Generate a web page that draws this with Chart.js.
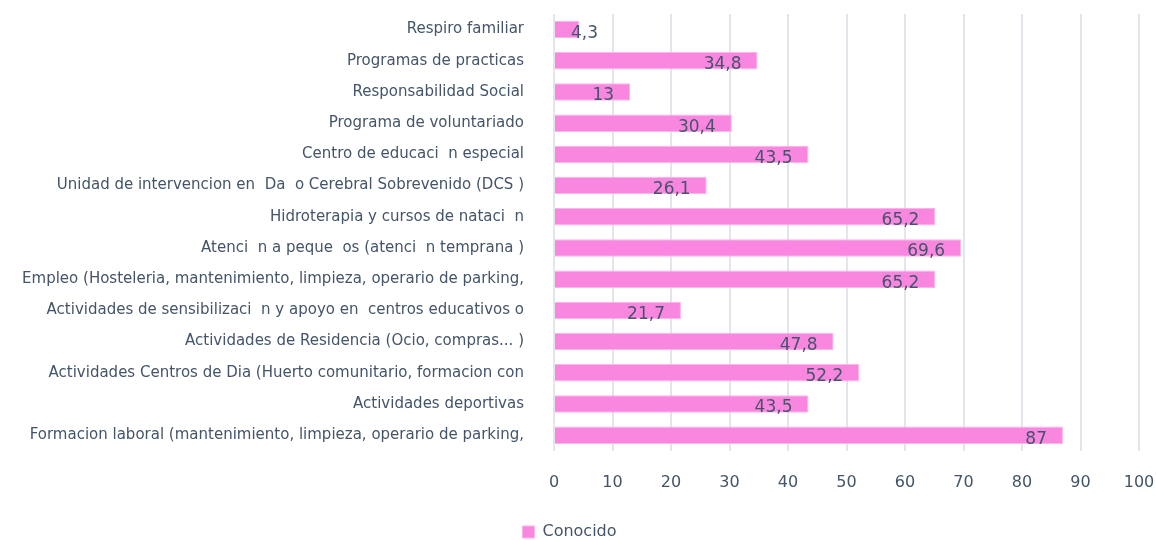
<!DOCTYPE html>
<html>
<head>
<meta charset="utf-8">
<script src="https://cdn.jsdelivr.net/npm/chart.js@4"></script>
<style>
  html, body { margin: 0; padding: 0; background: #fff; }
  #wrap { width: 1156px; height: 540px; position: relative; }
</style>
</head>
<body>
<div id="wrap"><canvas id="chart"></canvas></div>
<script>
const categories = [
  'Respiro familiar',
  'Programas de practicas',
  'Responsabilidad Social',
  'Programa de voluntariado',
  'Centro de educaci  n especial',
  'Unidad de intervencion en  Da  o Cerebral Sobrevenido (DCS )',
  'Hidroterapia y cursos de nataci  n',
  'Atenci  n a peque  os (atenci  n temprana )',
  'Empleo (Hosteleria, mantenimiento, limpieza, operario de parking,',
  'Actividades de sensibilizaci  n y apoyo en  centros educativos o',
  'Actividades de Residencia (Ocio, compras... )',
  'Actividades Centros de Dia (Huerto comunitario, formacion con',
  'Actividades deportivas',
  'Formacion laboral (mantenimiento, limpieza, operario de parking,'
];
const conocido = [4.3, 34.8, 13, 30.4, 43.5, 26.1, 65.2, 69.6, 65.2, 21.7, 47.8, 52.2, 43.5, 87];
const seriesName = 'Conocido';

const TEXT = '#44546a';
const FONT = 'DejaVu Sans';

// value labels drawn near the end of each bar
const valueLabels = {
  id: 'valueLabels',
  afterDatasetsDraw(chart) {
    const ctx = chart.ctx;
    const meta = chart.getDatasetMeta(0);
    ctx.save();
    ctx.font = '17px ' + FONT;
    ctx.fillStyle = TEXT;
    ctx.textAlign = 'right';
    ctx.textBaseline = 'middle';
    meta.data.forEach((bar, i) => {
      const txt = String(conocido[i]).replace('.', ',');
      const w = ctx.measureText(txt).width;
      const x = Math.max(bar.x - 16, bar.base + w + 16);
      ctx.fillText(txt, x, bar.y + 4);
    });
    ctx.restore();
  }
};

new Chart(document.getElementById('chart'), {
  type: 'bar',
  data: {
    labels: categories,
    datasets: [{
      label: seriesName,
      data: conocido,
      backgroundColor: '#f987e0',
      borderColor: '#fcb3ea',
      borderWidth: 1,
      categoryPercentage: 1,
      barPercentage: 0.56
    }]
  },
  options: {
    indexAxis: 'y',
    responsive: true,
    maintainAspectRatio: false,
    animation: false,
    layout: { padding: { top: 14, right: 17, bottom: -10, left: 0 } },
    scales: {
      x: {
        min: 0,
        max: 100,
        ticks: { stepSize: 10, color: TEXT, padding: 22, font: { family: FONT, size: 16 } },
        grid: { color: '#e1e5ec', lineWidth: 2, drawTicks: false },
        border: { display: false },
        afterFit(scale) { scale.paddingRight = 0; scale.height += 10; }
      },
      y: {
        ticks: { color: TEXT, padding: 22, font: { family: FONT, size: 15 } },
        grid: { display: false },
        border: { display: false },
        afterFit(scale) { scale.width = 554; scale.paddingTop = 0; scale.paddingBottom = 0; }
      }
    },
    plugins: {
      legend: {
        position: 'bottom',
        labels: {
          color: TEXT,
          font: { family: FONT, size: 16 },
          boxWidth: 12,
          boxHeight: 12,
          padding: 0
        }
      },
      tooltip: { enabled: false }
    }
  },
  plugins: [valueLabels]
});
</script>
</body>
</html>
